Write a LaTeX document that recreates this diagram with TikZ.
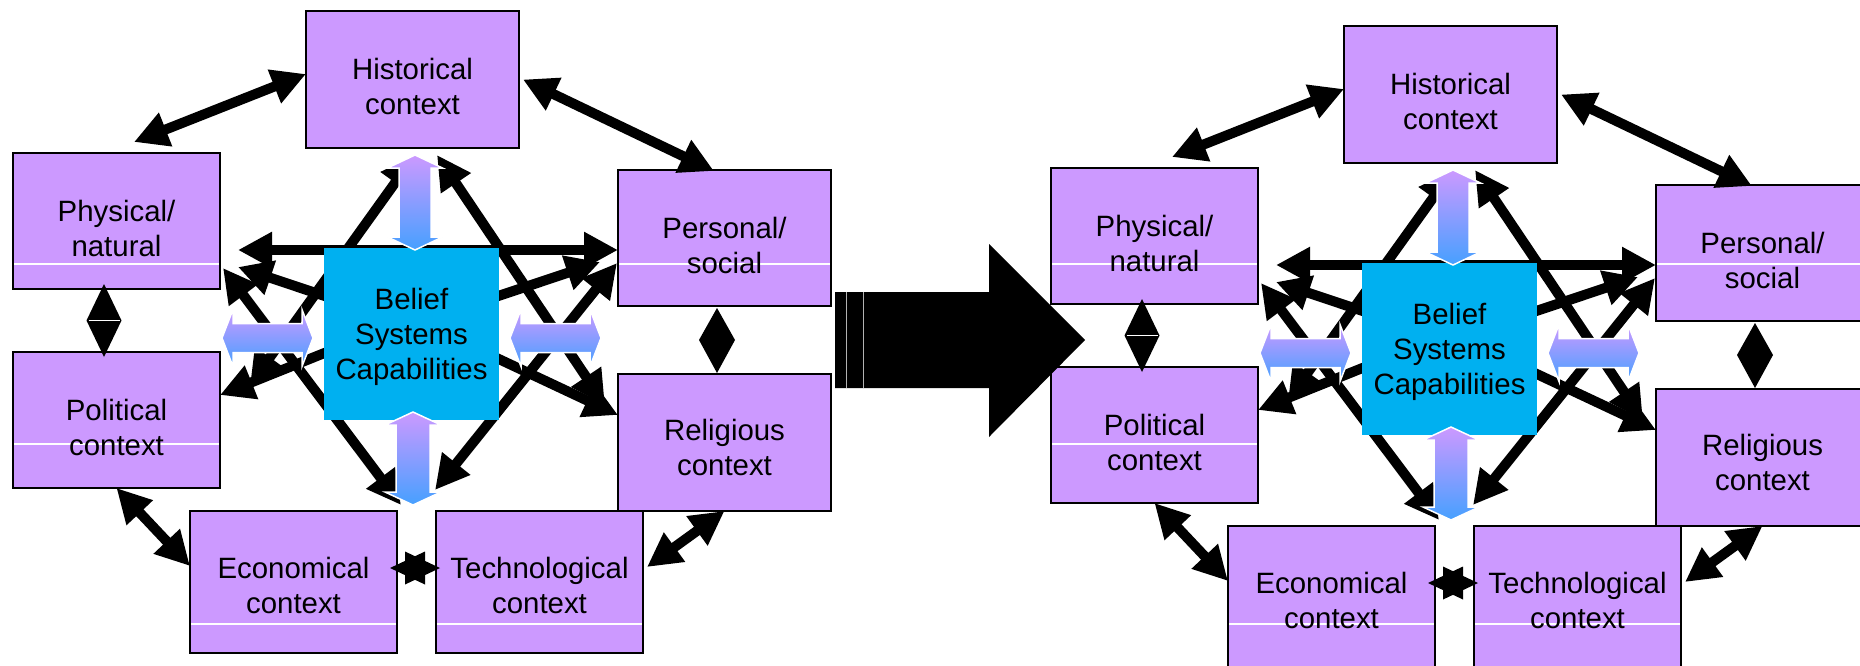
\documentclass[tikz,border=0pt]{standalone}
\usepackage{fontspec}
\setmainfont{Liberation Sans}
\usetikzlibrary{arrows.meta,calc}
\pgfdeclarelayer{paper}
\pgfdeclarelayer{boxes}
\pgfdeclarelayer{arrows}
\pgfsetlayers{paper,boxes,arrows,main}
\definecolor{boxpurple}{RGB}{204,153,255}
\definecolor{beliefblue}{RGB}{0,176,240}
\definecolor{gtop}{RGB}{204,153,255}
\definecolor{gbot}{RGB}{70,160,255}
\tikzset{
  ctxbox/.style={draw=black, line width=1.8pt, fill=boxpurple, inner sep=0pt, outer sep=0pt},
  ctxtext/.style={font=\fontsize{29.4}{35}\selectfont, align=center, inner sep=0pt, text=black},
  dbl/.style={draw=black, line width=10pt, arrows={Triangle[length=34pt,width=34pt]-Triangle[length=34pt,width=34pt]}},
  garrow/.style={top color=gtop, bottom color=gbot, draw=white, line width=1.5pt},
  wline/.style={path picture={\draw[white,line width=1.2pt] ([yshift={-1*(#1)}]path picture bounding box.north west) -- ([yshift={-1*(#1)}]path picture bounding box.north east);}},
}
\newcommand\gvert[5]{%
\draw[garrow] (#1,#2) -- (#1+#4,#2+13) -- (#1+#5,#2+13) -- (#1+#5,#3-13) -- (#1+#4,#3-13) -- (#1,#3) -- (#1-#4,#3-13) -- (#1-#5,#3-13) -- (#1-#5,#2+13) -- (#1-#4,#2+13) -- cycle;}
\newcommand\ghorz[5]{%
\draw[garrow] (#2,#1) -- (#2+11,#1-#4) -- (#2+11,#1-#5) -- (#3-11,#1-#5) -- (#3-11,#1-#4) -- (#3,#1) -- (#3-11,#1+#4) -- (#3-11,#1+#5) -- (#2+11,#1+#5) -- (#2+11,#1+#4) -- cycle;}
\begin{document}
\begin{tikzpicture}[x=1pt,y=-1pt]
\useasboundingbox (0,0) rectangle (1860,665);
\begin{pgfonlayer}{paper}
\fill[white] (0,0) rectangle (1860,665);
\end{pgfonlayer}
\foreach \p/\dx/\dy in {L/0/0,R/1038/15}{
\begin{scope}[shift={(\dx,\dy)}]
\begin{pgfonlayer}{boxes}
\node[ctxbox,minimum width=213pt,minimum height=137pt] (\p hist) at (412.5,79.5) {};
\node[ctxbox,wline={111-\dy},minimum width=207pt,minimum height=136pt] (\p phys) at (116.5,221) {};
\node[ctxbox,wline={94-\dy},minimum width=213pt,minimum height=136pt] (\p pers) at (724.5,238) {};
\node[ctxbox,wline={92-\dy},minimum width=207pt,minimum height=136pt] (\p poli) at (116.5,420) {};
\node[ctxbox,minimum width=213pt,minimum height=137pt] (\p reli) at (724.5,442.5) {};
\node[ctxbox,wline={113-\dy},minimum width=207pt,minimum height=142pt] (\p econ) at (293.5,582) {};
\node[ctxbox,wline={113-\dy},minimum width=207pt,minimum height=142pt] (\p tech) at (539.5,582) {};
\end{pgfonlayer}
\node[fill=beliefblue,inner sep=0pt,outer sep=0pt,minimum width=175pt,minimum height=172pt] (\p bel) at (411.5,334) {};
\begin{pgfonlayer}{arrows}
% outer ring
\draw[dbl] ([yshift=5.5pt]\p hist.west) -- ([xshift=17.5pt,yshift=11pt]\p phys.north);
\draw[dbl] ([xshift=4pt]\p hist.east) -- ([xshift=-10.5pt,yshift=-1pt]\p pers.north);
\draw[dbl] (\p poli.south) -- ([yshift=16pt]\p econ.west);
\draw[dbl] ([xshift=4pt,yshift=15pt]\p tech.east) -- (\p reli.south);
% centre lines
\draw[dbl] ([xshift=18pt,yshift=-29pt]\p phys.east) -- ([yshift=-12pt]\p pers.west);
\draw[dbl] ([yshift=9pt]\p bel.center) -- ([xshift=18pt,yshift=22pt]\p phys.south east);
\draw[dbl] ([yshift=9pt]\p bel.center) -- ([xshift=-18pt,yshift=44pt]\p pers.south west);
\draw[dbl] ([yshift=16pt]\p bel.center) -- ([yshift=25pt]\p poli.east);
\draw[dbl] ([yshift=16pt]\p bel.center) -- ([yshift=27.5pt]\p reli.west);
\draw[dbl] ([xshift=24.5pt,yshift=-7pt]\p hist.south) -- ([xshift=-13pt,yshift=-31pt]\p reli.north west);
\draw[dbl] ([xshift=2.5pt,yshift=-7pt]\p hist.south) -- ([xshift=30pt,yshift=-33pt]\p poli.north east);
\draw[dbl] ([xshift=3pt,yshift=21pt]\p phys.south east) -- ([xshift=4pt,yshift=6pt]\p econ.north east);
\draw[dbl] ([xshift=-1pt,yshift=43pt]\p pers.south west) -- ([xshift=-1pt,yshift=21pt]\p tech.north west);
% diamonds
\fill ([xshift=-12.5pt,yshift=5pt]\p phys.south) -- ([xshift=5pt,yshift=-31.5pt]\p phys.south) -- ([xshift=-12.5pt,yshift=-5pt]\p poli.north) -- ([xshift=-30pt,yshift=-31.5pt]\p phys.south) -- cycle;
\draw[white,line width=0.8pt] ([xshift=-28pt,yshift=-31.5pt]\p phys.south) -- ([xshift=3pt,yshift=-31.5pt]\p phys.south);
\fill ([xshift=-7.5pt,yshift=-2pt]\p pers.south) -- ([xshift=10.5pt,yshift=-34pt]\p pers.south) -- ([xshift=-7.5pt,yshift=1pt]\p reli.north) -- ([xshift=-25.5pt,yshift=-34pt]\p pers.south) -- cycle;
% star
\coordinate (\p st) at ([xshift=18pt,yshift=14pt]\p econ.east);
\fill ([xshift=-25pt]\p st) -- ([xshift=10pt,yshift=16.5pt]\p st) -- ([xshift=10pt,yshift=-16.5pt]\p st) -- cycle;
\fill ([xshift=25pt]\p st) -- ([xshift=-10pt,yshift=16.5pt]\p st) -- ([xshift=-10pt,yshift=-16.5pt]\p st) -- cycle;
\end{pgfonlayer}
% texts
\node[ctxtext] (\p histT) at ([yshift=-7pt]\p hist.center) {Historical\\context};
\node[ctxtext] (\p physT) at ([yshift=-7pt]\p phys.center) {Physical/\\natural};
\node[ctxtext] (\p persT) at ([yshift=-7pt]\p pers.center) {Personal/\\social};
\node[ctxtext] (\p poliT) at ([yshift=-7pt]\p poli.center) {Political\\context};
\node[ctxtext] (\p reliT) at ([yshift=-5pt]\p reli.center) {Religious\\context};
\node[ctxtext] (\p econT) at ([yshift=-3pt]\p econ.center) {Economical\\context};
\node[ctxtext] (\p techT) at ([yshift=-3pt]\p tech.center) {Technological\\context};
\node[ctxtext] (\p belT) at ([yshift=-3pt]\p bel.center) {Belief\\Systems\\Capabilities};
% gradient arrows
\gvert{415}{155}{250}{27.5}{16}
\gvert{413}{412}{505}{28}{17}
\ghorz{338}{222}{313}{28.5}{14.5}
\ghorz{338}{510}{601}{28.5}{14.5}
\end{scope}
}
% big arrow between the two diagrams
\fill[black] (835,292) -- (989,292) -- (989,244) -- (1085,340) -- (989,437) -- (989,388) -- (835,388) -- cycle;
\draw[gray!60,line width=0.8pt] (846,292) -- (846,388);
\draw[gray!60,line width=0.8pt] (863,292) -- (863,388);
\end{tikzpicture}
\end{document}
